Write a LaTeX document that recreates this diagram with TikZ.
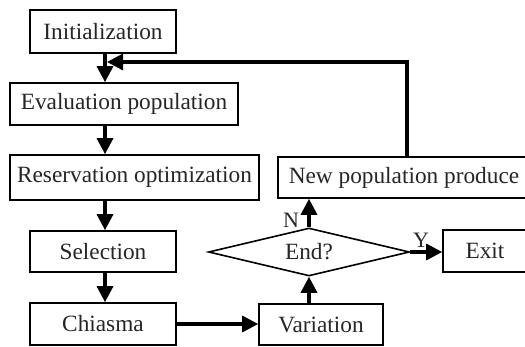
\documentclass[tikz,border=0pt]{standalone}
\usepackage{fontspec}
\setmainfont{Liberation Serif}
\usetikzlibrary{shapes.geometric,arrows.meta}
\begin{document}
\begin{tikzpicture}[x=1pt,y=-1pt,
  box/.style={draw=black,line width=1.6pt,rectangle,inner sep=0pt,fill=white,
    font=\fontsize{23.3}{25}\selectfont,text=black!85},
  dec/.style={draw=black,line width=1.6pt,diamond,inner sep=0pt,aspect=4.2,
    minimum width=201pt,minimum height=48pt,font=\fontsize{23.3}{25}\selectfont,text=black!85},
  lbl/.style={font=\fontsize{22}{24}\selectfont,text=black!85,inner sep=0pt},
  arr/.style={line width=3.2pt,-{Triangle[length=16pt,width=16pt]}},
  ln/.style={line width=3.2pt}]
\useasboundingbox (0,0) rectangle (525,347);
\begin{scope}
\clip (0,0) rectangle (525,347);
\node[box,minimum width=146pt,minimum height=43pt] (init) at (103,31.5) {Initialization};
\node[box,minimum width=228pt,minimum height=42pt] (eval) at (124,104) {Evaluation population};
\node[box,minimum width=249pt,minimum height=45pt] (res) at (134.5,177.5) {Reservation optimization};
\node[box,minimum width=146pt,minimum height=41pt] (sel) at (103,251.5) {Selection};
\node[box,minimum width=146pt,minimum height=42pt] (chi) at (103,324) {Chiasma};
\node[box,minimum width=124pt,minimum height=41pt] (var) at (321,324.5) {Variation};
\node[dec] (end) at (309,252) {End?};
\node[box,minimum width=252pt,minimum height=41pt] (newp) at (404,177.5) {New population produce};
\node[box,minimum width=84pt,minimum height=42pt] (exit) at (485,251) {Exit};
\coordinate (fb) at (107,62);
\draw[arr] (init.south -| 105,0) -- (eval.north -| 105,0);
\draw[arr] (eval.south -| 105,0) -- (res.north -| 105,0);
\draw[arr] (res.south -| 105,0) -- (sel.north -| 105,0);
\draw[arr] (sel.south -| 105,0) -- (chi.north -| 105,0);
\draw[arr] (chi.east |- 0,324) -- (var.west |- 0,324);
\draw[arr] (var.north -| end.south) -- (end.south);
\draw[arr] (end.north) -- (newp.south -| end.north);
\draw[arr] (end.east) -- (exit.west |- end.east);
\draw[arr] (newp.north -| 407,0) |- (fb);
\node[lbl] (nl) at (291,220) {N};
\node[lbl] (yl) at (421,240) {Y};
\end{scope}
\end{tikzpicture}
\end{document}
